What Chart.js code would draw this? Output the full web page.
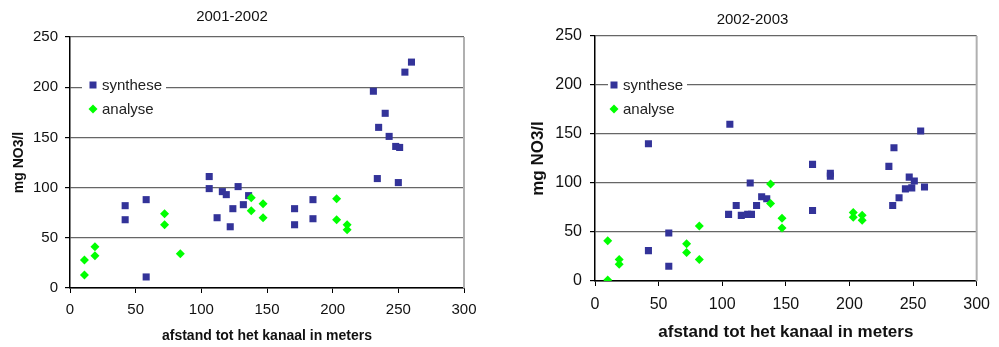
<!DOCTYPE html>
<html>
<head>
<meta charset="utf-8">
<script src="https://cdn.jsdelivr.net/npm/chart.js@4.4.1/dist/chart.umd.min.js"></script>
<style>
  body { margin: 0; background: #fff; width: 999px; height: 347px; overflow: hidden; position: relative; }
  canvas { position: absolute; top: 0; }
</style>
</head>
<body>
<canvas id="left" width="486" height="347" style="left:0"></canvas>
<canvas id="right" width="478" height="347" style="left:521px"></canvas>
<script>
// data
const seriesNames = ["synthese", "analyse"];
const xTickValues = [0, 50, 100, 150, 200, 250, 300];
const yTickValues = [0, 50, 100, 150, 200, 250];
const xAxisTitle = "afstand tot het kanaal in meters";
const yAxisTitle = "mg NO3/l";

// 2001-2002
const synthese2001X = [42, 42, 58, 58, 106, 106, 116, 119, 128, 136, 132, 124, 112, 122, 171, 171, 185, 185, 231, 234, 235, 240, 243, 248, 250, 251, 255, 260];
const synthese2001Y = [82, 68, 88, 11, 111, 99, 96, 93, 101, 92, 83, 79, 70, 61, 79, 63, 88, 69, 196, 109, 160, 174, 151, 141, 105, 140, 215, 225];
const analyse2001X = [11, 11, 19, 19, 72, 72, 84, 138, 138, 147, 147, 203, 203, 211, 211];
const analyse2001Y = [28, 13, 41, 32, 74, 63, 34, 90, 77, 84, 70, 89, 68, 63, 58];

// 2002-2003
const synthese2002X = [42, 42, 58, 58, 105, 106, 111, 115, 120, 122, 123, 127, 131, 135, 171, 171, 185, 185, 231, 234, 235, 239, 244, 247, 249, 251, 256, 259];
const synthese2002Y = [140, 31, 49, 15, 68, 160, 77, 67, 68, 100, 68, 77, 86, 84, 119, 72, 110, 107, 117, 77, 136, 85, 94, 106, 95, 102, 153, 96];
const analyse2002X = [10, 10, 19, 19, 72, 72, 82, 82, 138, 138, 147, 147, 203, 203, 210, 210];
const analyse2002Y = [41, 1, 22, 17, 38, 29, 56, 22, 99, 79, 64, 54, 70, 65, 67, 62];

const FONT = "'Liberation Sans', Arial, sans-serif";
const BLUE = '#333399';
const GREEN = '#00FF00';

function points(xs, ys) {
  return xs.map((x, i) => ({ x: x, y: ys[i] }));
}

// legend drawn inside the plot + grey right border
const insideLegend = {
  id: 'insideLegend',
  afterDraw(chart, args, opts) {
    const ctx = chart.ctx;
    const a = chart.chartArea;
    ctx.save();
    // right border of the plot area
    ctx.strokeStyle = '#b0b0b0';
    ctx.lineWidth = 2;
    ctx.beginPath();
    ctx.moveTo(a.right, a.top);
    ctx.lineTo(a.right, a.bottom);
    ctx.stroke();
    // legend box
    ctx.fillStyle = '#fff';
    ctx.fillRect(a.left + opts.boxLeft, a.top + opts.rowTop - 12, opts.boxWidth, opts.rowGap + 24);
    ctx.font = opts.fontSize + 'px ' + FONT;
    ctx.textBaseline = 'middle';
    chart.data.datasets.forEach((ds, i) => {
      const y = a.top + opts.rowTop + i * opts.rowGap;
      const x = a.left + opts.markerX;
      ctx.fillStyle = ds.backgroundColor;
      ctx.beginPath();
      if (ds.pointStyle === 'rect') {
        ctx.rect(x - 3.5, y - 3.5, 7, 7);
      } else {
        ctx.moveTo(x, y - 4.5); ctx.lineTo(x + 4.5, y); ctx.lineTo(x, y + 4.5); ctx.lineTo(x - 4.5, y);
        ctx.closePath();
      }
      ctx.fill();
      ctx.fillStyle = '#222';
      ctx.fillText(ds.label, a.left + opts.textX, y + 1);
    });
    ctx.restore();
  }
};

function makeChart(id, title, synX, synY, anaX, anaY, cfg) {
  return new Chart(document.getElementById(id), {
    type: 'scatter',
    data: {
      datasets: [{
        label: seriesNames[0],
        data: points(synX, synY),
        backgroundColor: BLUE,
        borderColor: BLUE,
        borderWidth: 0,
        pointStyle: 'rect',
        pointRadius: 5,
        order: 2
      }, {
        label: seriesNames[1],
        data: points(anaX, anaY),
        backgroundColor: GREEN,
        borderColor: GREEN,
        borderWidth: 0,
        pointStyle: 'rectRot',
        pointRadius: 4.5,
        order: 1
      }]
    },
    options: {
      responsive: false,
      animation: false,
      layout: { padding: { left: 0, right: cfg.padRight, top: 0, bottom: 0 } },
      plugins: {
        legend: { display: false },
        tooltip: { enabled: false },
        title: {
          display: true,
          text: title,
          color: '#111',
          font: { family: FONT, size: 15, weight: 'normal' },
          padding: { top: cfg.titleTop, bottom: cfg.titleBottom }
        },
        insideLegend: cfg.legend
      },
      scales: {
        x: {
          type: 'linear',
          min: 0,
          max: 300,
          afterBuildTicks: (s) => { s.ticks = xTickValues.map(v => ({ value: v })); },
          afterFit: (s) => { s.height = cfg.xHeight; },
          ticks: { color: '#111', padding: cfg.xTickPad, font: { family: FONT, size: cfg.tickSize } },
          grid: { drawOnChartArea: false, drawTicks: true, tickLength: 5, tickColor: '#000' },
          border: { display: true, color: '#000', width: 1.5 },
          title: {
            display: true,
            text: xAxisTitle,
            color: '#111',
            font: { family: FONT, size: cfg.axisTitleSize, weight: 'bold' },
            padding: { top: 0, bottom: cfg.xTitlePad }
          }
        },
        y: {
          type: 'linear',
          min: 0,
          max: 250,
          afterBuildTicks: (s) => { s.ticks = yTickValues.map(v => ({ value: v })); },
          afterFit: (s) => { s.width = cfg.yWidth; },
          ticks: { color: '#111', padding: cfg.yTickPad, font: { family: FONT, size: cfg.tickSize } },
          grid: { color: '#666', lineWidth: 1.2, drawTicks: true, tickLength: 5, tickColor: '#000' },
          border: { display: true, color: '#000', width: 1.5 },
          title: {
            display: true,
            text: yAxisTitle,
            color: '#111',
            font: { family: FONT, size: cfg.axisTitleSize, weight: 'bold' },
            padding: { top: cfg.yTitlePad, bottom: 0 }
          }
        }
      }
    },
    plugins: [insideLegend]
  });
}

makeChart('left', '2001-2002', synthese2001X, synthese2001Y, analyse2001X, analyse2001Y, {
  padRight: 22, titleTop: 8, titleBottom: 11, xHeight: 59, yWidth: 70,
  tickSize: 15, xTickPad: 8, yTickPad: 7, axisTitleSize: 14, xTitlePad: 2, yTitlePad: 11,
  legend: { boxLeft: 12, boxWidth: 84, markerX: 23, textX: 32, rowTop: 48, rowGap: 24, fontSize: 15 }
});

makeChart('right', '2002-2003', synthese2002X, synthese2002Y, analyse2002X, analyse2002Y, {
  padRight: 15, titleTop: 11, titleBottom: 7, xHeight: 66, yWidth: 74,
  tickSize: 16, xTickPad: 9, yTickPad: 8, axisTitleSize: 17, xTitlePad: 4, yTitlePad: 7,
  legend: { boxLeft: 13, boxWidth: 79, markerX: 19, textX: 28, rowTop: 49, rowGap: 24, fontSize: 15 }
});
</script>
</body>
</html>
